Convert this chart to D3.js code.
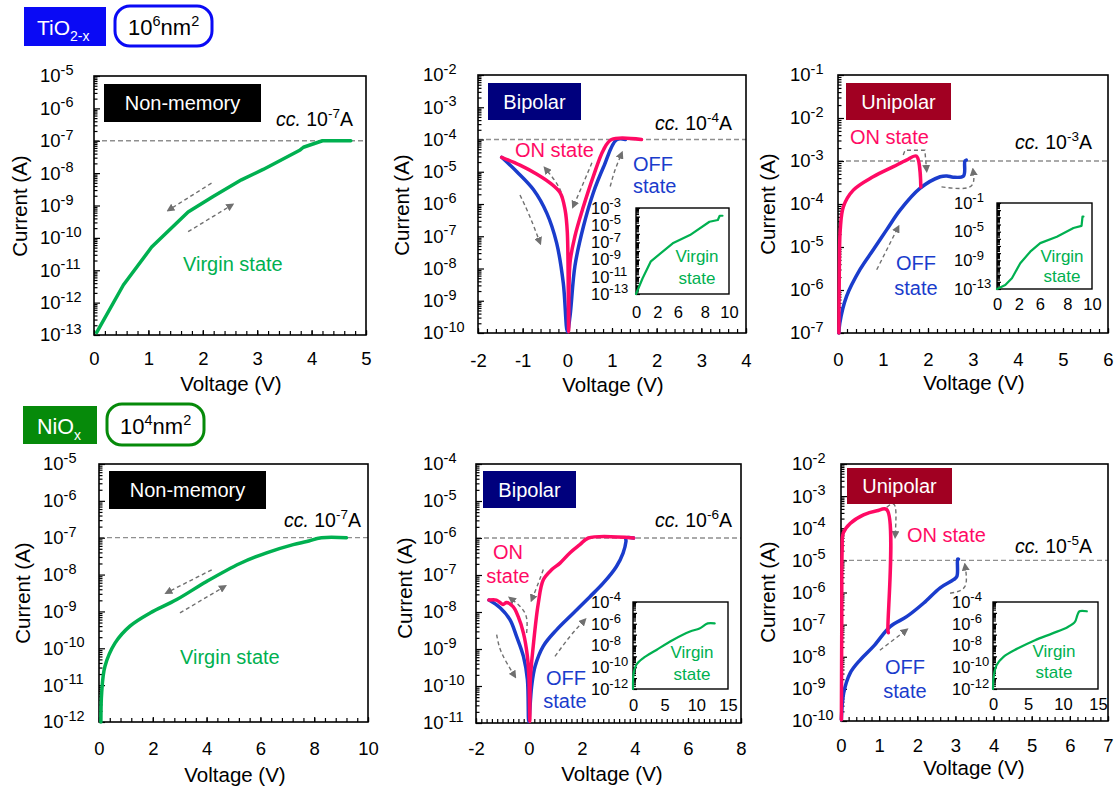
<!DOCTYPE html>
<html><head><meta charset="utf-8">
<script src="https://cdn.jsdelivr.net/npm/d3@7"></script>
<style>
body{margin:0;background:#fff;}
svg{display:block;font-family:"Liberation Sans",Arial,sans-serif;}
</style></head><body>
<svg id="c" width="1118" height="791"></svg>
<script>
// ---------------- DATA (voltage in V, current in A) ----------------
// TiO2-x, non-memory (virgin)
const tio2VirginV = [0.05, 0.54, 1.06, 1.73, 2.19, 2.71, 3.11, 3.79, 3.85, 4.2, 4.72];
const tio2VirginI = [1.2e-13, 3.5e-12, 5.2e-11, 6.3e-10, 1.9e-9, 6.2e-9, 1.3e-8, 5.2e-8, 6.3e-8, 1e-7, 1e-7];
// TiO2-x, bipolar
const tio2BipOnV  = [-1.47, -1.06, -0.69, -0.39, -0.16, -0.05, 0, 0.03, 0.06, 0.17, 0.36, 0.58, 0.81, 0.99, 1.66];
const tio2BipOnI  = [2.8e-5, 1.6e-5, 8.5e-6, 4.5e-6, 2.2e-6, 6.6e-7, 1.3e-7, 1.1e-10, 1.5e-8, 1e-7, 8.3e-7, 7.1e-6, 4.8e-5, 1e-4, 1e-4];
const tio2BipOffV = [-1.47, -1.13, -0.76, -0.46, -0.24, -0.09, 0, 0.06, 0.17, 0.36, 0.58, 0.81, 1.1, 1.3];
const tio2BipOffI = [2.8e-5, 1.0e-5, 2.8e-6, 5.2e-7, 6.2e-8, 3.5e-9, 1.1e-10, 3.3e-10, 1.2e-8, 2.0e-7, 2.2e-6, 1.4e-5, 9.8e-5, 1e-4];
const tio2BipVirginV = [0, 0.7, 1.6, 3.95, 5.8, 7.9, 8.8, 9.0, 9.3];
const tio2BipVirginI = [1e-13, 6.3e-12, 6.3e-10, 7.9e-8, 7.1e-7, 2.5e-5, 4e-5, 1.26e-4, 1.26e-4];
// TiO2-x, unipolar
const tio2UniOnV  = [0.02, 0.03, 0.05, 0.12, 0.34, 0.78, 1.23, 1.52, 1.74, 1.84];
const tio2UniOnI  = [1e-7, 3.2e-6, 2.5e-5, 8.7e-5, 2.1e-4, 4.3e-4, 7.4e-4, 1.05e-3, 1.3e-3, 2.5e-4];
const tio2UniOffV = [0.02, 0.04, 0.19, 0.49, 0.78, 1.08, 1.38, 1.82, 2.27, 2.42, 2.56, 2.79, 2.82, 2.85];
const tio2UniOffI = [1e-7, 1.7e-7, 7.1e-7, 3e-6, 8.5e-6, 2.5e-5, 7.2e-5, 2.3e-4, 4.3e-4, 4.5e-4, 4.2e-4, 4.5e-4, 1e-3, 1.05e-3];
const tio2UniVirginV = [0, 0.87, 1.57, 2.45, 3.5, 4.55, 6.3, 8.05, 8.9, 9.0, 9.1];
const tio2UniVirginI = [1e-13, 3.5e-13, 3.2e-12, 4e-10, 1.6e-8, 2.5e-7, 2e-6, 3.2e-5, 6.3e-5, 1.26e-3, 1.26e-3];
// NiOx, non-memory (virgin)
const nioVirginV = [0.07, 0.1, 0.22, 0.6, 1.15, 1.9, 2.89, 4.0, 5.24, 6.23, 7.22, 7.72, 8.27, 9.2];
const nioVirginI = [1e-12, 6.3e-12, 3.2e-11, 1.4e-10, 4e-10, 9.1e-10, 2.1e-9, 6.5e-9, 2e-8, 3.9e-8, 6.5e-8, 7.9e-8, 1e-7, 1e-7];
// NiOx, bipolar
const nioBipOnV  = [-1.51, -1.23, -0.98, -0.85, -0.6, -0.41, -0.21, -0.06, 0, 0.03, 0.05, 0.16, 0.35, 0.54, 0.86, 1.17, 1.55, 1.92, 2.24, 3.95];
const nioBipOnI  = [2.1e-8, 2.1e-8, 1.6e-8, 1.8e-8, 1.4e-8, 7.6e-9, 2.7e-9, 6.3e-10, 1.5e-10, 1.1e-11, 1.5e-10, 1.2e-9, 1.7e-8, 7.4e-8, 1.4e-7, 2.1e-7, 4e-7, 6.6e-7, 1e-6, 1e-6];
const nioBipOffV = [-1.51, -1.09, -0.72, -0.47, -0.21, -0.06, -0.01, 0.1, 0.23, 0.54, 1.04, 1.67, 2.3, 2.8, 3.3, 3.55, 3.66, 3.66, 3.95];
const nioBipOffI = [2.1e-8, 1.3e-8, 6.2e-9, 2.2e-9, 6.3e-10, 1.5e-10, 1.1e-11, 9.8e-11, 3.4e-10, 1.2e-9, 3.3e-9, 9.3e-9, 2.6e-8, 6e-8, 1.7e-7, 3.9e-7, 8.1e-7, 1e-6, 1e-6];
const nioBipVirginV = [0, 0.1, 0.5, 1.58, 3.7, 6.3, 9.0, 10.5, 11.8, 12.9];
const nioBipVirginI = [1e-12, 2.8e-11, 1.6e-10, 6.6e-10, 3.9e-9, 3.2e-8, 1.9e-7, 3.7e-7, 1.07e-6, 1.07e-6];
// NiOx, unipolar
const nioUniOnV  = [0.01, 0.02, 0.03, 0.06, 0.24, 0.59, 0.94, 1.2, 1.23, 1.24];
const nioUniOnI  = [1.1e-10, 1e-7, 2.1e-5, 7.1e-5, 1.4e-4, 2.6e-4, 3.5e-4, 3.8e-4, 6.9e-8, 5.6e-8];
const nioUniOffV = [0.01, 0.07, 0.24, 0.5, 0.85, 1.29, 1.73, 2.17, 2.6, 2.95, 3.04, 3.06, 3.08];
const nioUniOffI = [1.1e-10, 7.4e-10, 3.1e-9, 7.9e-9, 2.1e-8, 8.7e-8, 1.8e-7, 4.7e-7, 1.4e-6, 2.5e-6, 3.2e-6, 1.1e-5, 1.1e-5];
const nioUniVirginV = [0, 0.1, 0.5, 1.5, 3.5, 6.0, 8.5, 10.7, 11.7, 12.05, 12.35, 13.4];
const nioUniVirginI = [1e-12, 1.3e-11, 1.5e-10, 8.9e-10, 5.2e-9, 3.1e-8, 1.3e-7, 5.1e-7, 1.5e-6, 6e-6, 1.4e-5, 1.4e-5];

// compliance currents
const complianceI = [1e-7, 1e-4, 1e-3, 1e-7, 1e-6, 1e-5];

// tick labels
const ticksTio2Mem = [0, 1, 2, 3, 4, 5];
const ticksTio2Bip = [-2, -1, 0, 1, 2, 3, 4];
const ticksTio2Uni = [0, 1, 2, 3, 4, 5, 6];
const ticksNioMem  = [0, 2, 4, 6, 8, 10];
const ticksNioBip  = [-2, 0, 2, 4, 6, 8];
const ticksNioUni  = [0, 1, 2, 3, 4, 5, 6, 7];
const insetTio2TickLabels = ["0", "2", "6", "8", "10"];
const insetTio2TickVals   = [0, 2.3, 4.5, 7.4, 10];
const insetNioTicks = [0, 5, 10, 15];

// dashed guide arrows (V, I)
const arrowsTio2Mem = [[[2.16, 4.9e-9], [1.37, 7.2e-10]], [[1.73, 1.55e-10], [2.54, 1.05e-9]]];
const arrowsTio2Bip = [[[-0.05, 5.4e-7], [-0.16, 2.75e-6], [-0.5, 1.3e-5]],
                       [[0.55, 1.9e-5], [0.36, 4.5e-6], [0.13, 8.3e-7]],
                       [[0.96, 3.5e-6], [1.07, 1.15e-5], [1.22, 3.8e-5]],
                       [[-1.06, 1.9e-6], [-0.84, 4.1e-7], [-0.61, 6.2e-8]]];
const arrowsTio2Uni = [[[1.45, 1.38e-3], [1.49, 1.78e-3], [1.93, 1.78e-3], [1.97, 6.0e-4]],
                       [[2.3, 2.5e-4], [2.93, 2.5e-4], [3.0, 6.2e-4]],
                       [[0.86, 2.95e-6], [1.34, 2.95e-5]]];
const arrowsNioMem  = [[[4.19, 1.35e-8], [2.51, 3.2e-9]], [[3.01, 9.1e-10], [4.68, 4.8e-9]]];
const arrowsNioBip  = [[[-0.09, 2.7e-9], [-0.15, 9.3e-9], [-0.72, 2.4e-8]],
                       [[0.54, 1.4e-7], [0.35, 6.0e-8], [0.1, 2.1e-8]],
                       [[-1.22, 2.45e-9], [-1.03, 7.8e-10], [-0.53, 1.8e-10]],
                       [[0.98, 6.3e-10], [1.55, 2.2e-9], [2.11, 6.2e-9]]];
const arrowsNioUni  = [[[1.2, 4.5e-4], [1.42, 4.8e-4], [1.42, 5.5e-5]],
                       [[2.86, 9.5e-7], [3.25, 1.55e-6], [3.25, 7.2e-6]],
                       [[1.02, 1.6e-8], [1.72, 6.9e-8]]];

// ---------------- STYLE ----------------
const GREEN = "#00b050", PINK = "#ff0a64", BLUE = "#1a3ccc", ARROW = "#707070";
const zip = (a, b) => a.map((v, i) => [v, b[i]]);

const svg = d3.select("#c");
svg.append("rect").attr("width", 1118).attr("height", 791).attr("fill", "#fff");
const defs = svg.append("defs");
defs.append("marker").attr("id", "ah").attr("viewBox", "0 0 10 10").attr("refX", 7).attr("refY", 5)
  .attr("markerWidth", 8).attr("markerHeight", 8).attr("markerUnits", "userSpaceOnUse").attr("orient", "auto")
  .append("path").attr("d", "M0,0 L10,5 L0,10 Z").attr("fill", ARROW);

function rich(parent, x, y, parts, fs, o = {}) {
  const t = parent.append("text").attr("x", x).attr("y", y).attr("font-size", fs)
    .attr("fill", o.fill || "#000").attr("text-anchor", o.anchor || "start");
  let cur = 0;
  parts.forEach(p => {
    const off = p.sup ? -(o.supShift || 0.4) * fs : p.sub ? 0.3 * fs : 0;
    const ts = t.append("tspan").attr("dy", off - cur).text(p.t);
    if (p.sup || p.sub) ts.attr("font-size", p.fs || fs * 0.68);
    if (p.it) ts.attr("font-style", "italic");
    cur = off;
  });
  return t;
}

function drawPanel(c) {
  const g = svg.append("g");
  const x = d3.scaleLinear().domain(c.xDom).range([c.left, c.right]);
  const y = d3.scaleLog().domain([Math.pow(10, c.yMin), Math.pow(10, c.yMax)]).range([c.bottom, c.top]);
  const exps = d3.range(c.yMin, c.yMax + 1);
  const minor = [];
  exps.slice(0, -1).forEach(e => { for (let k = 2; k < 10; k++) minor.push(k * Math.pow(10, e)); });

  if (c.inset) g.append("rect").attr("x", c.left).attr("y", c.top).attr("width", c.right - c.left)
    .attr("height", c.bottom - c.top).attr("fill", "#fff");

  // compliance line
  if (c.cc) g.append("line").attr("x1", c.left).attr("x2", c.right).attr("y1", y(c.cc)).attr("y2", y(c.cc))
    .attr("stroke", "#8f8f8f").attr("stroke-width", 1.3).attr("stroke-dasharray", "5,3");

  // y axis ticks
  const clean = s => s.call(a => a.select(".domain").remove()).attr("font-family", null).attr("font-size", null);
  g.append("g").attr("transform", `translate(${c.left},0)`)
    .call(d3.axisLeft(y).tickValues(minor).tickSize(c.inset ? -3 : -3.5).tickFormat("")).call(clean)
    .selectAll("line").attr("stroke-width", 1.2);
  g.append("g").attr("transform", `translate(${c.left},0)`)
    .call(d3.axisLeft(y).tickValues(exps.map(e => Math.pow(10, e))).tickSize(c.inset ? -4 : -6).tickFormat("")).call(clean)
    .selectAll("line").attr("stroke-width", 1.2);
  const fs = c.inset ? 16.5 : 18.5;
  (c.yLabelExps || exps).forEach(e => {
    rich(g, c.yLabelX, y(Math.pow(10, e)) + 0.35 * fs, [{ t: "10" }, { t: String(e), sup: true, fs: c.inset ? 13 : 14.5 }], fs);
  });

  // x axis
  if (c.xMinor) {
    const mv = d3.range(c.xDom[0], c.xDom[1] + 1e-9, c.xMinor);
    g.append("g").attr("transform", `translate(0,${c.bottom})`)
      .call(d3.axisBottom(x).tickValues(mv).tickSize(-4).tickFormat("")).call(clean)
      .selectAll("line").attr("stroke-width", 1.2);
  }
  const xa = g.append("g").attr("transform", `translate(0,${c.bottom})`)
    .call(d3.axisBottom(x).tickValues(c.xTicks).tickSize(c.inset ? 0 : -5).tickPadding(c.xLabOff - 0.71 * fs)
      .tickFormat((d, i) => c.xLabels ? c.xLabels[i] : String(d))).call(clean);
  xa.selectAll("line").attr("stroke-width", 1.2);
  xa.selectAll("text").attr("font-size", fs).attr("fill", "#000");

  // frame
  g.append("rect").attr("x", c.left).attr("y", c.top).attr("width", c.right - c.left).attr("height", c.bottom - c.top)
    .attr("fill", "none").attr("stroke", "#000").attr("stroke-width", c.inset ? 1.4 : 1.6);

  // arrows
  (c.arrows || []).forEach(a => {
    const line = d3.line().x(d => x(d[0])).y(d => y(d[1])).curve(a.length === 3 ? d3.curveNatural : d3.curveLinear);
    g.append("path").attr("d", line(a)).attr("fill", "none").attr("stroke", ARROW).attr("stroke-width", 1.4)
      .attr("stroke-dasharray", "4,3").attr("marker-end", "url(#ah)");
  });

  // series
  c.series.forEach(s => {
    const line = d3.line().x(d => x(d[0])).y(d => y(d[1]))
      .curve(s.straight ? d3.curveLinear : d3.curveCatmullRom.alpha(0.5));
    g.append("path").attr("d", line(zip(s.v, s.i))).attr("fill", "none").attr("stroke", s.color)
      .attr("stroke-width", s.w || 3.5).attr("stroke-linejoin", "round").attr("stroke-linecap", "round");
  });

  // axis titles
  if (!c.inset) {
    g.append("text").attr("transform", `translate(${c.yTitle[0]},${c.yTitle[1]}) rotate(-90)`)
      .attr("text-anchor", "middle").attr("font-size", 20.5).text("Current (A)");
    g.append("text").attr("x", c.xTitle[0]).attr("y", c.xTitle[1])
      .attr("text-anchor", "middle").attr("font-size", 20.5).text("Voltage (V)");
  }
  return g;
}

function tag(x, y, w, h, fill, label) {
  svg.append("rect").attr("x", x).attr("y", y).attr("width", w).attr("height", h).attr("fill", fill);
  svg.append("text").attr("x", x + w / 2).attr("y", y + h / 2 + 7).attr("text-anchor", "middle")
    .attr("font-size", 20).attr("fill", "#fff").text(label);
}
function ccLabel(xEnd, yb, e) {
  rich(svg, xEnd, yb, [{ t: "cc.", it: true }, { t: "\u00a010" }, { t: String(e), sup: true, fs: 13.5 }, { t: "A" }], 19.5, { anchor: "end" });
}
function txt(x, y, s, color, anchor, fs) {
  svg.append("text").attr("x", x).attr("y", y).attr("fill", color).attr("font-size", fs || 20)
    .attr("text-anchor", anchor || "start").text(s);
}

// ---------------- HEADERS ----------------
svg.append("rect").attr("x", 24).attr("y", 7).attr("width", 82).attr("height", 39).attr("fill", "#0a0af5");
rich(svg, 37, 35, [{ t: "TiO" }, { t: "2-x", sub: true, fs: 14 }], 21, { fill: "#fff" });
svg.append("rect").attr("x", 115).attr("y", 6).attr("width", 97).attr("height", 40).attr("rx", 15)
  .attr("fill", "#fff").attr("stroke", "#0a0af5").attr("stroke-width", 3);
rich(svg, 128, 35, [{ t: "10" }, { t: "6", sup: true, fs: 14.5 }, { t: "nm" }, { t: "2", sup: true, fs: 14.5 }], 22);

svg.append("rect").attr("x", 23).attr("y", 406).attr("width", 74).attr("height", 38).attr("fill", "#068a0a");
rich(svg, 37, 434, [{ t: "NiO" }, { t: "x", sub: true, fs: 14 }], 21.5, { fill: "#fff" });
svg.append("rect").attr("x", 107).attr("y", 404).attr("width", 97).attr("height", 41).attr("rx", 15)
  .attr("fill", "#fff").attr("stroke", "#068a0a").attr("stroke-width", 3);
rich(svg, 120, 434, [{ t: "10" }, { t: "4", sup: true, fs: 14.5 }, { t: "nm" }, { t: "2", sup: true, fs: 14.5 }], 22);

// ---------------- PANELS ----------------
drawPanel({ left: 94, right: 366, top: 76, bottom: 335, xDom: [0, 5], xTicks: ticksTio2Mem, xMinor: 0.2,
  yMin: -13, yMax: -5, yLabelX: 40, xLabOff: 30, cc: complianceI[0], arrows: arrowsTio2Mem,
  yTitle: [27, 206], xTitle: [231, 391],
  series: [{ v: tio2VirginV, i: tio2VirginI, color: GREEN, straight: true }] });
drawPanel({ left: 478, right: 746, top: 75, bottom: 333, xDom: [-2, 4], xTicks: ticksTio2Bip, xMinor: 0.2,
  yMin: -10, yMax: -2, yLabelX: 423, xLabOff: 34, cc: complianceI[1], arrows: arrowsTio2Bip,
  yTitle: [409, 205], xTitle: [613, 392],
  series: [{ v: tio2BipOffV, i: tio2BipOffI, color: BLUE }, { v: tio2BipOnV, i: tio2BipOnI, color: PINK }] });
drawPanel({ left: 838, right: 1108, top: 75, bottom: 333, xDom: [0, 6], xTicks: ticksTio2Uni, xMinor: 0.2,
  yMin: -7, yMax: -1, yLabelX: 790, xLabOff: 33, cc: complianceI[2], arrows: arrowsTio2Uni,
  yTitle: [775, 204], xTitle: [974, 390],
  series: [{ v: tio2UniOffV, i: tio2UniOffI, color: BLUE }, { v: tio2UniOnV, i: tio2UniOnI, color: PINK }] });
drawPanel({ left: 99, right: 368, top: 464, bottom: 722, xDom: [0, 10], xTicks: ticksNioMem, xMinor: 0.4,
  yMin: -12, yMax: -5, yLabelX: 43, xLabOff: 33, cc: complianceI[3], arrows: arrowsNioMem,
  yTitle: [30, 593], xTitle: [235, 782],
  series: [{ v: nioVirginV, i: nioVirginI, color: GREEN }] });
drawPanel({ left: 476, right: 741, top: 464, bottom: 723, xDom: [-2, 8], xTicks: ticksNioBip, xMinor: 0.2,
  yMin: -11, yMax: -4, yLabelX: 423, xLabOff: 32, cc: complianceI[4], arrows: arrowsNioBip,
  yTitle: [412, 588], xTitle: [612, 781],
  series: [{ v: nioBipOffV, i: nioBipOffI, color: BLUE }, { v: nioBipOnV, i: nioBipOnI, color: PINK }] });
drawPanel({ left: 841, right: 1108, top: 464, bottom: 721, xDom: [0, 7], xTicks: ticksNioUni, xMinor: 0.2,
  yMin: -10, yMax: -2, yLabelX: 792, xLabOff: 31, cc: complianceI[5], arrows: arrowsNioUni,
  yTitle: [775, 592], xTitle: [974, 775],
  series: [{ v: nioUniOffV, i: nioUniOffI, color: BLUE }, { v: nioUniOnV, i: nioUniOnI, color: PINK }] });

// insets
drawPanel({ inset: true, left: 636, right: 729, top: 208, bottom: 294, xDom: [0, 10], xTicks: insetTio2TickVals,
  xLabels: insetTio2TickLabels, yMin: -13, yMax: -3, yLabelExps: [-3, -5, -7, -9, -11, -13], yLabelX: 591, xLabOff: 24,
  series: [{ v: tio2BipVirginV, i: tio2BipVirginI, color: GREEN, w: 2.2, straight: true }] });
drawPanel({ inset: true, left: 997, right: 1092, top: 203, bottom: 289, xDom: [0, 10], xTicks: insetTio2TickVals,
  xLabels: insetTio2TickLabels, yMin: -13, yMax: -1, yLabelExps: [-1, -5, -9, -13], yLabelX: 954, xLabOff: 21,
  series: [{ v: tio2UniVirginV, i: tio2UniVirginI, color: GREEN, w: 2.2, straight: true }] });
drawPanel({ inset: true, left: 633, right: 728, top: 602, bottom: 689, xDom: [0, 15], xTicks: insetNioTicks,
  yMin: -12, yMax: -4, yLabelExps: [-4, -6, -8, -10, -12], yLabelX: 591, xLabOff: 22,
  series: [{ v: nioBipVirginV, i: nioBipVirginI, color: GREEN, w: 2.2 }] });
drawPanel({ inset: true, left: 993, right: 1098, top: 602, bottom: 689, xDom: [0, 15], xTicks: insetNioTicks,
  yMin: -12, yMax: -4, yLabelExps: [-4, -6, -8, -10, -12], yLabelX: 952, xLabOff: 21,
  series: [{ v: nioUniVirginV, i: nioUniVirginI, color: GREEN, w: 2.2 }] });

// ---------------- ANNOTATIONS ----------------
tag(104, 84, 157, 38, "#000", "Non-memory");
tag(488, 83, 93, 37, "#00007d", "Bipolar");
tag(846, 83, 105, 37, "#a10022", "Unipolar");
tag(109, 471, 157, 38, "#000", "Non-memory");
tag(483, 471, 93, 37, "#00007d", "Bipolar");
tag(847, 468, 105, 36, "#a10022", "Unipolar");

ccLabel(353, 126, -7); ccLabel(732, 130, -4); ccLabel(1092, 149, -3);
ccLabel(361, 527, -7); ccLabel(732, 527, -6); ccLabel(1092, 553, -5);

txt(183, 271, "Virgin state", GREEN);
txt(180, 664, "Virgin state", GREEN);
txt(515, 157, "ON state", PINK);
txt(633, 171, "OFF", BLUE); txt(633, 193, "state", BLUE);
txt(850, 144, "ON state", PINK);
txt(916, 270, "OFF", BLUE, "middle"); txt(916, 295, "state", BLUE, "middle");
txt(508, 559, "ON", PINK, "middle"); txt(508, 583, "state", PINK, "middle");
txt(566, 685, "OFF", BLUE, "middle"); txt(565, 708, "state", BLUE, "middle");
txt(907, 542, "ON state", PINK);
txt(905, 674, "OFF", BLUE, "middle"); txt(905, 698, "state", BLUE, "middle");
// inset labels
[[697, 262, 284], [1062, 262, 282], [692, 658, 680], [1054, 657, 678]].forEach(p => {
  txt(p[0], p[1], "Virgin", GREEN, "middle", 17); txt(p[0], p[2], "state", GREEN, "middle", 17);
});
</script>
</body></html>
